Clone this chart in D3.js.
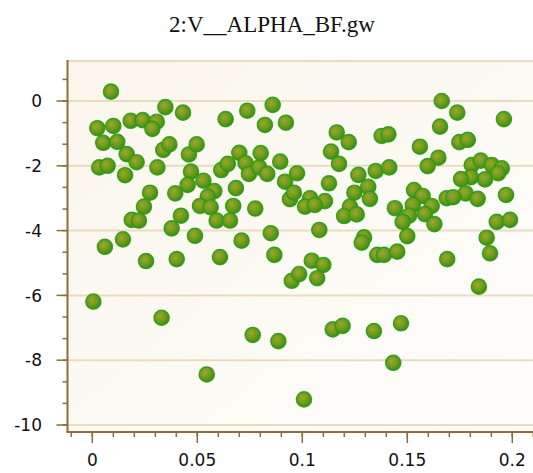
<!DOCTYPE html>
<html>
<head>
<meta charset="utf-8">
<script src="https://cdn.jsdelivr.net/npm/d3@7/dist/d3.min.js"></script>
<style>
  body { margin: 0; background: #fff; }
  svg { display: block; }
</style>
</head>
<body>
<div id="chart"></div>
<script>
// chart title and axis ticks
var title = "2:V__ALPHA_BF.gw";
var xTicks = [0, 0.05, 0.1, 0.15, 0.2];
var yTicks = [0, -2, -4, -6, -8, -10];

// points (x value, y value)
var xs = [0.0089, 0.0024, 0.0100, 0.0183, 0.0240, 0.0307, 0.0286, 0.0348, 0.0432, 0.0052,
  0.0119, 0.0164, 0.0211, 0.0033, 0.0073, 0.0156, 0.0310, 0.0338, 0.0367, 0.0460,
  0.0497, 0.0470, 0.0529, 0.0454, 0.0395, 0.0275, 0.0246, 0.0188, 0.0222, 0.0422,
  0.0378, 0.0489, 0.0146, 0.0060, 0.0581, 0.0550, 0.0513, 0.0564, 0.0592, 0.0656,
  0.0671, 0.0684, 0.0776, 0.0635, 0.0738, 0.0859, 0.0822, 0.0922, 0.0700, 0.0614,
  0.0645, 0.0730, 0.0746, 0.0795, 0.0802, 0.0833, 0.0895, 0.0918, 0.0941, 0.0960,
  0.0975, 0.0711, 0.0850,
  0.1664, 0.1738, 0.1656, 0.1960, 0.1164, 0.1221, 0.1378, 0.1410, 0.1137, 0.1175,
  0.1560, 0.1648, 0.1597, 0.1748, 0.1788, 0.1807, 0.1850, 0.1903, 0.1950, 0.1933,
  0.1870, 0.1803, 0.1756, 0.1778, 0.1835, 0.1970, 0.1688, 0.1719, 0.1267, 0.1350,
  0.1414, 0.1127, 0.1314, 0.1248, 0.1322, 0.1108, 0.1037, 0.1013, 0.1060, 0.1227,
  0.1199, 0.1259, 0.1081, 0.1441, 0.1532, 0.1573, 0.1526, 0.1616, 0.1508, 0.1478,
  0.1584, 0.1629, 0.1500, 0.1294, 0.1283, 0.1878, 0.1926, 0.1989,
  0.0256, 0.0402, 0.0608, 0.0867, 0.0950, 0.0985, 0.0005, 0.0330, 0.0764, 0.0886,
  0.0545, 0.1357, 0.1389, 0.1452, 0.1045, 0.1100, 0.1071, 0.1690, 0.1894, 0.1841,
  0.1145, 0.1192, 0.1341, 0.1470, 0.1433, 0.1008];
var ys = [0.29, -0.84, -0.77, -0.61, -0.59, -0.64, -0.86, -0.19, -0.36, -1.29,
  -1.26, -1.64, -1.89, -2.05, -2.00, -2.29, -2.05, -1.51, -1.34, -1.65,
  -1.34, -2.18, -2.46, -2.59, -2.85, -2.83, -3.26, -3.67, -3.69, -3.54,
  -3.93, -4.16, -4.27, -4.50, -2.78, -2.95, -3.24, -3.28, -3.69, -3.69,
  -3.24, -2.69, -3.32, -0.56, -0.30, -0.12, -0.74, -0.67, -1.60, -2.13,
  -1.94, -1.92, -2.25, -2.05, -1.61, -2.25, -1.87, -2.49, -3.03, -2.83,
  -2.23, -4.31, -4.08,
  0.00, -0.36, -0.79, -0.56, -0.97, -1.27, -1.08, -1.03, -1.56, -1.94,
  -1.41, -1.75, -2.01, -1.27, -1.20, -1.98, -1.84, -1.98, -2.08, -2.23,
  -2.42, -2.35, -2.41, -2.85, -3.02, -2.90, -3.00, -2.97, -2.28, -2.16,
  -2.05, -2.54, -2.65, -2.83, -3.02, -3.09, -3.00, -3.26, -3.21, -3.26,
  -3.55, -3.50, -3.98, -3.31, -2.75, -2.93, -3.21, -3.24, -3.54, -3.73,
  -3.49, -3.80, -4.17, -4.21, -4.37, -4.22, -3.73, -3.67,
  -4.94, -4.88, -4.82, -4.75, -5.55, -5.34, -6.19, -6.69, -7.22, -7.41,
  -8.44, -4.75, -4.75, -4.65, -4.93, -5.06, -5.47, -4.88, -4.70, -5.73,
  -7.05, -6.94, -7.10, -6.86, -8.08, -9.21];

var W = 533, H = 473;
var plot = { left: 67.5, right: 533, top: 60, bottom: 432 };

var svg = d3.select("#chart").append("svg")
  .attr("width", W).attr("height", H);

var x = d3.scaleLinear().domain([0, 0.2]).range([92.3, 512.3]);
var y = d3.scaleLinear().domain([0, -10]).range([101, 425]);

var defs = svg.append("defs");
var bg = defs.append("linearGradient").attr("id", "bg")
  .attr("x1", "0").attr("y1", "0").attr("x2", "1").attr("y2", "1");
bg.append("stop").attr("offset", "0%").attr("stop-color", "#faf6ec");
bg.append("stop").attr("offset", "100%").attr("stop-color", "#fefdfb");

var dot = defs.append("radialGradient").attr("id", "dot")
  .attr("cx", "40%").attr("cy", "38%").attr("r", "62%");
dot.append("stop").attr("offset", "0%").attr("stop-color", "#9aa82c");
dot.append("stop").attr("offset", "55%").attr("stop-color", "#6f9c1e");
dot.append("stop").attr("offset", "100%").attr("stop-color", "#3c9012");

defs.append("clipPath").attr("id", "clip").append("rect")
  .attr("x", plot.left).attr("y", plot.top)
  .attr("width", plot.right - plot.left).attr("height", plot.bottom - plot.top);

// background of the plot area
svg.append("rect")
  .attr("x", plot.left).attr("y", plot.top)
  .attr("width", plot.right - plot.left).attr("height", plot.bottom - plot.top)
  .attr("fill", "url(#bg)");

// horizontal grid lines, plus the top border line
svg.append("g").selectAll("line")
  .data(yTicks.concat([y.invert(plot.top + 1)]))
  .join("line")
  .attr("x1", plot.left).attr("x2", plot.right)
  .attr("y1", d => y(d)).attr("y2", d => y(d))
  .attr("stroke", "#e9dcc2").attr("stroke-width", 2);

// points
svg.append("g").attr("clip-path", "url(#clip)")
  .selectAll("circle")
  .data(d3.range(xs.length))
  .join("circle")
  .attr("cx", i => x(xs[i]))
  .attr("cy", i => y(ys[i]))
  .attr("r", 7.6)
  .attr("fill", "url(#dot)")
  .attr("stroke", "#2b9a16")
  .attr("stroke-width", 1.4)
  .attr("stroke-opacity", 0.9);

var axisColor = "#8d6d38";

// y axis: major ticks with labels, minor ticks every 2/3
var yMinor = d3.range(-16, 3).map(k => k * 2 / 3)
  .filter(v => y(v) >= plot.top && y(v) <= plot.bottom);
var yAxis = svg.append("g");
yAxis.selectAll("line.minor").data(yMinor).join("line")
  .attr("x1", plot.left - 5).attr("x2", plot.left)
  .attr("y1", d => y(d)).attr("y2", d => y(d))
  .attr("stroke", axisColor).attr("stroke-width", 1.5);
yAxis.selectAll("line.major").data(yTicks).join("line")
  .attr("x1", plot.left - 11).attr("x2", plot.left)
  .attr("y1", d => y(d)).attr("y2", d => y(d))
  .attr("stroke", axisColor).attr("stroke-width", 1.5);
yAxis.selectAll("text").data(yTicks).join("text")
  .attr("x", 42).attr("y", d => y(d))
  .attr("dy", "0.36em")
  .attr("text-anchor", "end")
  .attr("font-family", "DejaVu Sans, sans-serif")
  .attr("font-size", 17)
  .attr("fill", "#111")
  .text(d => d3.format("")(d).replace("−", "-"));
yAxis.append("line")
  .attr("x1", plot.left).attr("x2", plot.left)
  .attr("y1", plot.top).attr("y2", plot.bottom)
  .attr("stroke", axisColor).attr("stroke-width", 2);

// x axis: major ticks with labels, minor every 0.01
var xMinor = d3.range(-2, 23).map(k => k / 100)
  .filter(v => x(v) >= plot.left && x(v) <= plot.right + 1);
var xAxis = svg.append("g");
xAxis.selectAll("line.minor").data(xMinor).join("line")
  .attr("x1", d => x(d)).attr("x2", d => x(d))
  .attr("y1", plot.bottom).attr("y2", plot.bottom + 5)
  .attr("stroke", axisColor).attr("stroke-width", 1.5);
xAxis.selectAll("line.major").data(xTicks).join("line")
  .attr("x1", d => x(d)).attr("x2", d => x(d))
  .attr("y1", plot.bottom).attr("y2", plot.bottom + 11)
  .attr("stroke", axisColor).attr("stroke-width", 1.5);
xAxis.selectAll("text").data(xTicks).join("text")
  .attr("x", d => x(d)).attr("y", 466)
  .attr("text-anchor", "middle")
  .attr("font-family", "DejaVu Sans, sans-serif")
  .attr("font-size", 17)
  .attr("fill", "#111")
  .text(d => String(d));
xAxis.append("line")
  .attr("x1", plot.left - 1).attr("x2", plot.right)
  .attr("y1", plot.bottom).attr("y2", plot.bottom)
  .attr("stroke", axisColor).attr("stroke-width", 2);

// title
svg.append("text")
  .attr("x", 272).attr("y", 32)
  .attr("text-anchor", "middle")
  .attr("font-family", "Liberation Serif, serif")
  .attr("font-size", 23)
  .attr("fill", "#111")
  .text(title);
</script>
</body>
</html>
